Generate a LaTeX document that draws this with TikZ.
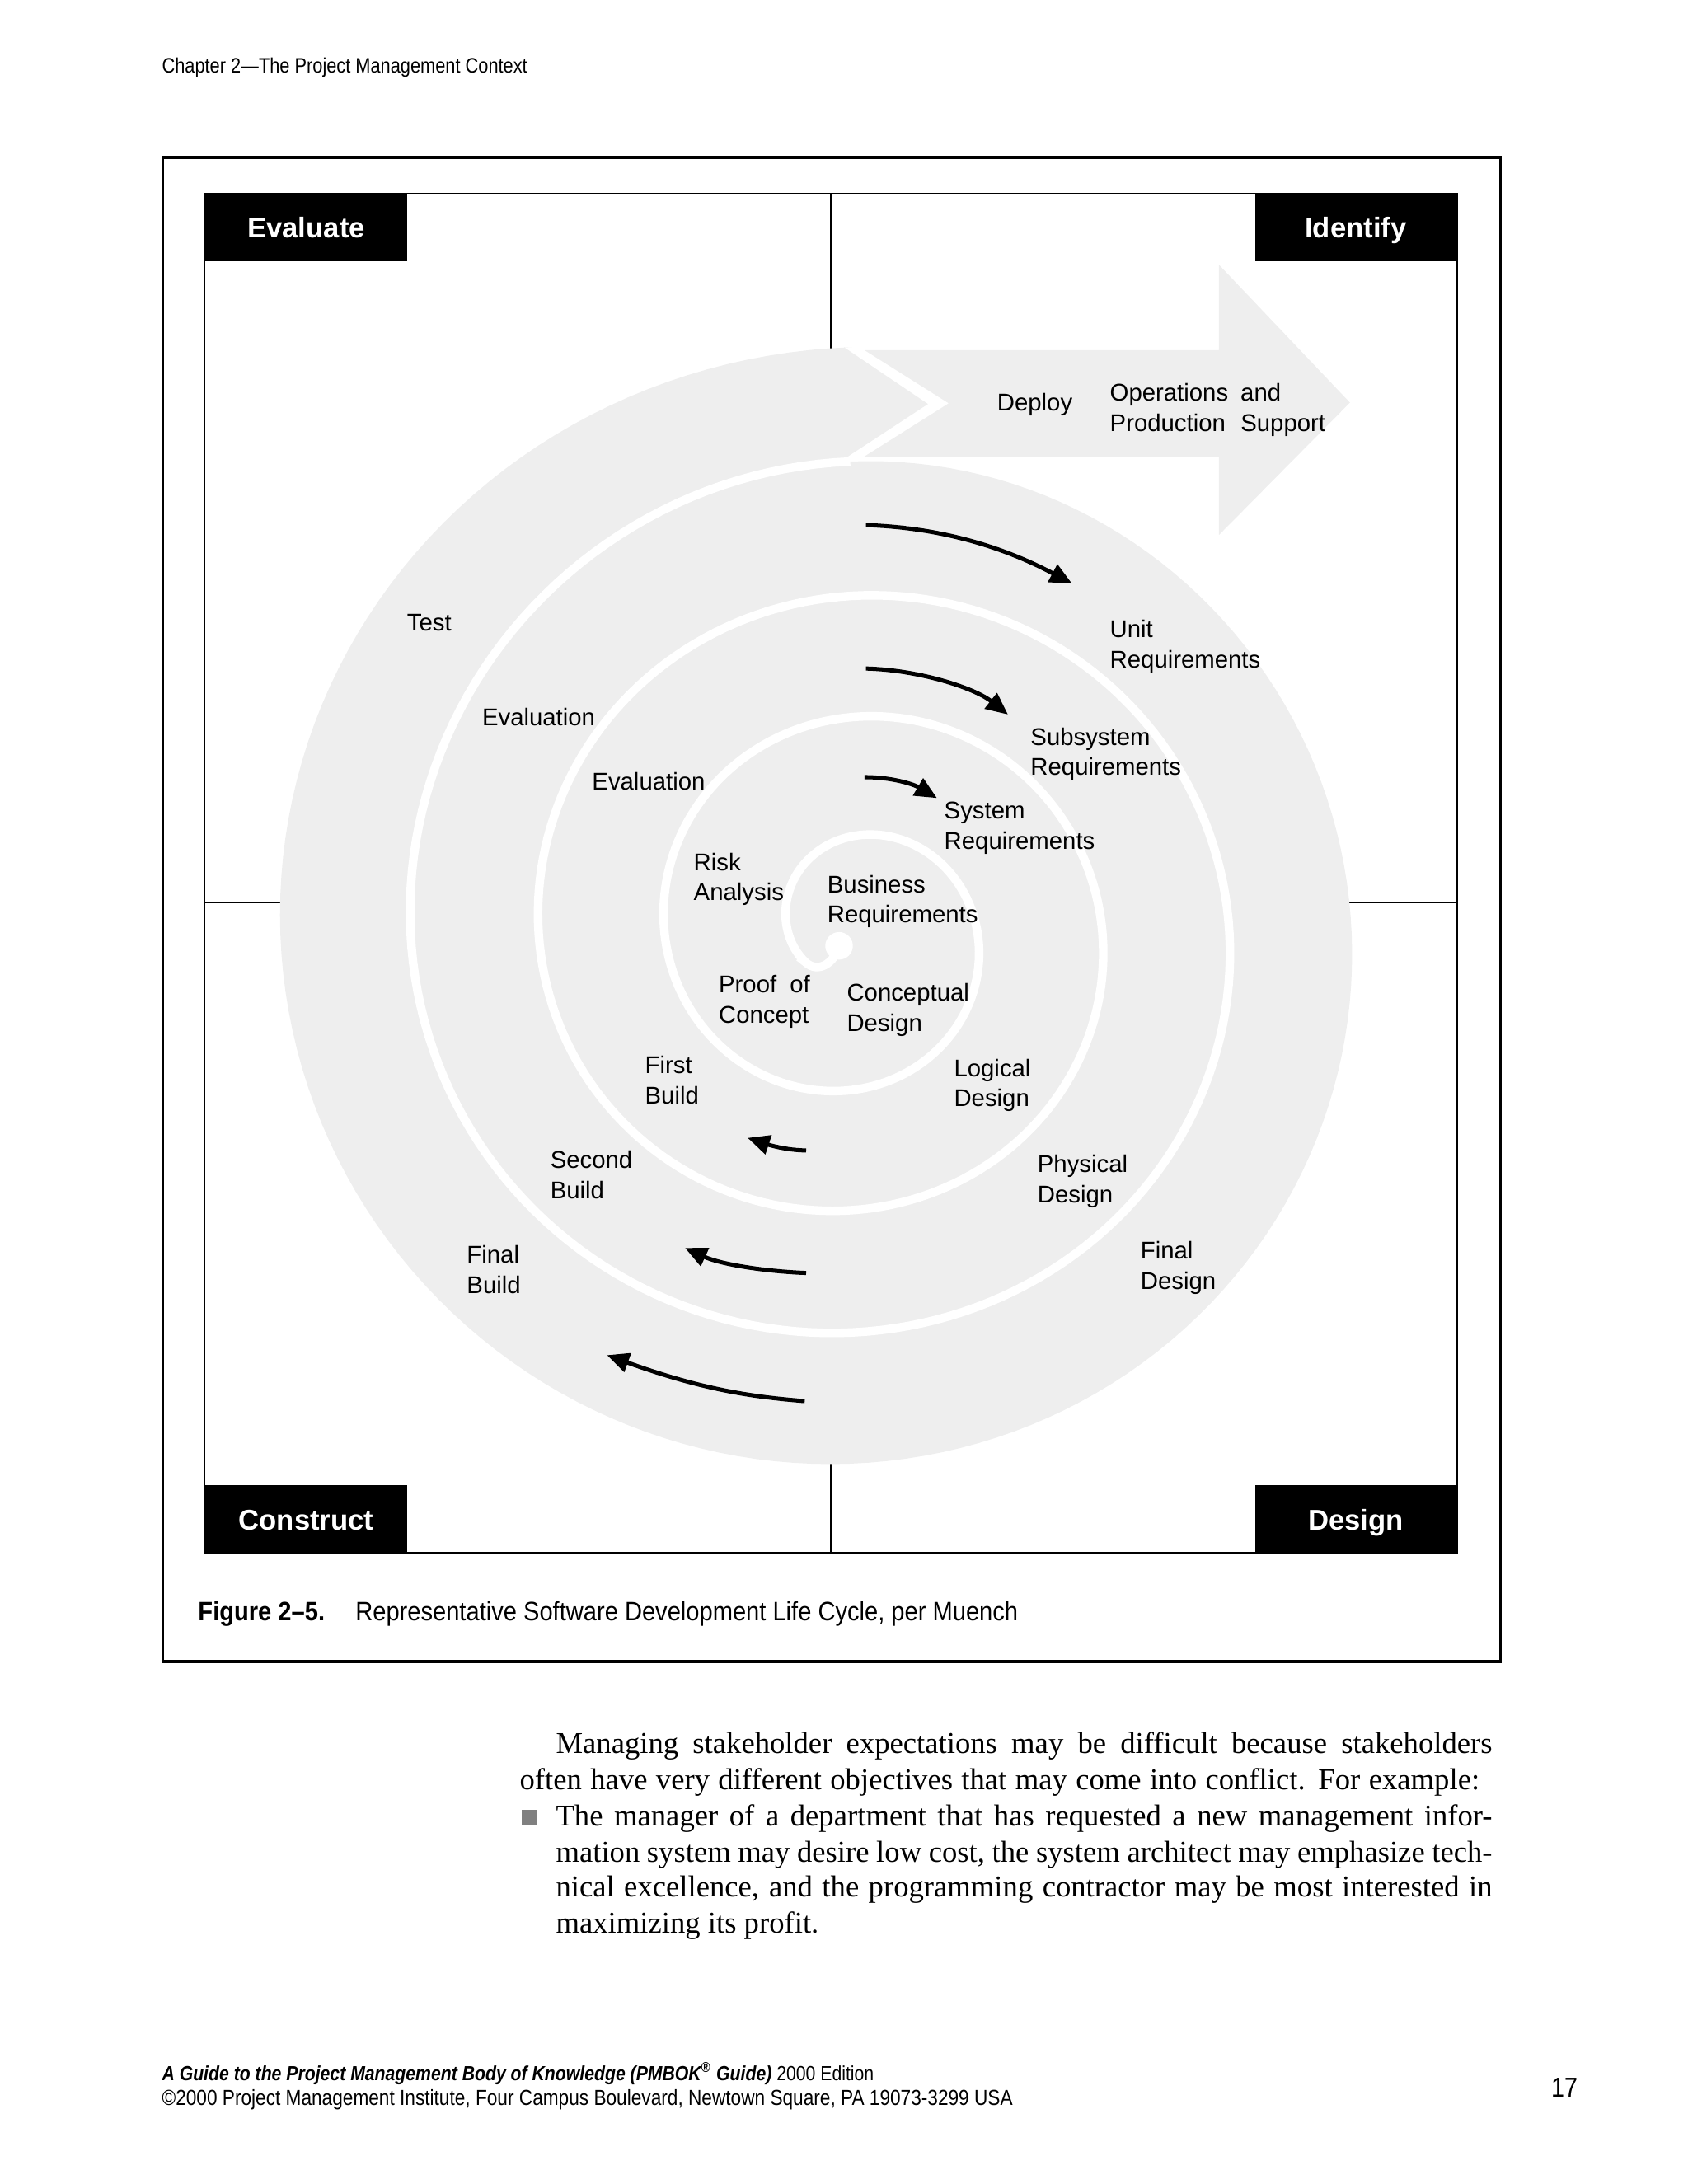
\documentclass[tikz,border=0pt]{standalone}
\usepackage{fontspec}
\setmainfont{Liberation Serif}
\setsansfont{Liberation Sans}
\newfontfamily\condsans[FakeStretch=0.86]{Liberation Sans}
\newfontfamily\capsans[FakeStretch=0.9]{Liberation Sans}
\usetikzlibrary{arrows.meta}
\definecolor{spiralgrey}{RGB}{238,238,238}
\definecolor{bulletgrey}{RGB}{128,128,128}
\newcommand\twoline[2]{\begin{tabular}[t]{@{}l@{}}#1\\#2\end{tabular}}
\tikzset{
  lbl/.style={anchor=base west, inner sep=0pt, font=\sffamily\fontsize{8.8}{11}\selectfont},
  corner/.style={fill=black, text=white, inner sep=0pt, minimum width=73bp, minimum height=24.5bp,
     text height=7.5bp, text depth=0pt, font=\sffamily\bfseries\fontsize{10.4}{12}\selectfont},
  body/.style={anchor=base west, inner sep=0pt, font=\rmfamily\fontsize{11}{12.9}\selectfont},
  blk/.style={line width=1.5bp, -{Triangle[length=8bp,width=7bp]}},
  spiralline/.style={white, line width=3.1bp},
  divider/.style={line width=0.5bp},
  page/.style={xscale=1.0095, yscale=1.01},
  declare function={
    rx(\t)=2+0.245*\t+6*(\t/1000)*(\t/1000);
    bumpA(\t)=exp(-min(((\t-1350)/60)*((\t-1350)/60),20));
    bumpB(\t)=exp(-min(((\t-1530)/70)*((\t-1530)/70),20));
    bumpC(\t)=exp(-min(((\t-1440)/80)*((\t-1440)/80),20));
    sx(\t)=618+rx(\t)*cos(\t)-5*bumpC(\t);
    sy(\t)=677+(4.7+0.959*rx(\t))*sin(\t)-8*bumpA(\t)+5*bumpB(\t);
  },
}
\begin{document}
\begin{tikzpicture}[x=0.5bp,y=-0.5bp]
\useasboundingbox (0,0) rectangle (1224,1584);
% quadrant dividers
\begin{scope}[page]
\draw[divider] (597,139) -- (597,1115);
\draw[divider] (147,648) -- (1047,648);
\end{scope}
% grey spiral body
\fill[spiralgrey] (612,333) -- plot[domain=1350:1710,samples=181] ({sx(\x)},{sy(\x)})
  -- (612,251.8) -- (673,293) -- cycle;
% deploy arrow
\fill[spiralgrey] (627,254) -- (884,254) -- (884,192) -- (979,292) -- (884,388) -- (884,331) -- (627,331) -- (688,292.5) -- cycle;
% white spiral gap
\draw[spiralline] (608.5,686) .. controls (605,699) and (593,706) .. (584.3,698) -- plot[domain=150:1350,samples=601] ({sx(\x)},{sy(\x)});
\fill[white] (608.5,686) circle[radius=10];
\begin{scope}[page]
% black arrows
\coordinate (u1) at (622,377); \coordinate (u2) at (770,419);
\coordinate (s1) at (622,480); \coordinate (s2) at (724,513);
\coordinate (y1) at (621,558); \coordinate (y2) at (673,573);
\coordinate (f1) at (579,826); \coordinate (f2) at (537,817);
\coordinate (c1) at (579,914); \coordinate (c2) at (492,896);
\coordinate (l1) at (578,1006); \coordinate (l2) at (436,973);
\draw[blk] (u1) .. controls (680,379) and (725,395) .. (u2);
\draw[blk] (s1) .. controls (660,481) and (700,494) .. (s2);
\draw[blk] (y1) .. controls (640,558) and (656,563) .. (y2);
\draw[blk] (f1) .. controls (565,826) and (552,822) .. (f2);
\draw[blk] (c1) .. controls (550,913) and (518,908) .. (c2);
\draw[blk] (l1) .. controls (540,1003) and (505,998) .. (l2);
% labels
\node[lbl] (deploy) at (716,295) {Deploy};
\node[lbl] (ops) at (797,288) {\twoline{Operations\hspace{4.5bp}and}{Production\hspace{5.5bp}Support}};
\node[lbl] (unit) at (797,458) {\twoline{Unit}{Requirements}};
\node[lbl] (subsys) at (740,535) {\twoline{Subsystem}{Requirements}};
\node[lbl] (system) at (678,588) {\twoline{System}{Requirements}};
\node[lbl] (business) at (594,641) {\twoline{Business}{Requirements}};
\node[lbl] (concept) at (608,719) {\twoline{Conceptual}{Design}};
\node[lbl] (logical) at (685,773) {\twoline{Logical}{Design}};
\node[lbl] (physical) at (745,842) {\twoline{Physical}{Design}};
\node[lbl] (finald) at (819,904) {\twoline{Final}{Design}};
\node[lbl] (test) at (292,453) {Test};
\node[lbl] (evalA) at (346,521) {Evaluation};
\node[lbl] (evalB) at (425,567) {Evaluation};
\node[lbl] (risk) at (498,625) {\twoline{Risk}{Analysis}};
\node[lbl] (proof) at (516,713) {\twoline{Proof\hspace{4.8bp}of}{Concept}};
\node[lbl] (firstb) at (463,771) {\twoline{First}{Build}};
\node[lbl] (secondb) at (395,839) {\twoline{Second}{Build}};
\node[lbl] (finalb) at (335,907) {\twoline{Final}{Build}};
% frame of the diagram and corner labels
\draw[line width=0.7bp] (147,139) rectangle (1047,1115);
\node[corner] (evaluate) at (220,163.5) {Evaluate};
\node[corner] (identify) at (974,163.5) {Identify};
\node[corner] (construct) at (220,1091) {Construct};
\node[corner] (design) at (974,1091) {Design};
\draw[line width=1.1bp] (117,113) rectangle (1078,1193);
% caption
\node[anchor=base west, inner sep=0pt, font=\capsans\bfseries\fontsize{9.7}{11}\selectfont] (figno) at (142,1164) {Figure 2–5.};
\node[anchor=base west, inner sep=0pt, font=\capsans\fontsize{9.7}{11}\selectfont] (figcap) at (255,1164) {Representative Software Development Life Cycle, per Muench};
% header
\node[anchor=base west, inner sep=0pt, font=\condsans\fontsize{7.6}{9}\selectfont] (header) at (116,52.5) {Chapter 2—The Project Management Context};
% body text
\node[body] (b1) at (399,1259) {\makebox[339.5bp][s]{Managing stakeholder expectations may be difficult because stakeholders}};
\node[body] (b2) at (373,1285) {\makebox[348bp][s]{often have very different objectives that may come into conflict. For example:}};
\node[fill=bulletgrey, minimum size=5.5bp, inner sep=0pt] (bullet) at (380.5,1305) {};
\node[body] (b3) at (399,1311) {\makebox[339.5bp][s]{The manager of a department that has requested a new management infor-}};
\node[body] (b4) at (399,1337) {\makebox[339.5bp][s]{mation system may desire low cost, the system architect may emphasize tech-}};
\node[body] (b5) at (399,1362) {\makebox[339.5bp][s]{nical excellence, and the programming contractor may be most interested in}};
\node[body] (b6) at (399,1388) {maximizing its profit.};
% footer
\node[anchor=base west, inner sep=0pt, font=\condsans\fontsize{7.4}{9}\selectfont] (foot1) at (116,1494) {\textbf{\textit{A Guide to the Project Management Body of Knowledge (PMBOK\textsuperscript{®} Guide)}} 2000 Edition};
\node[anchor=base west, inner sep=0pt, font=\condsans\fontsize{7.9}{9}\selectfont] (foot2) at (116,1512) {©2000 Project Management Institute, Four Campus Boulevard, Newtown Square, PA 19073-3299 USA};
\node[anchor=base west, inner sep=0pt, font=\condsans\fontsize{10}{12}\selectfont] (pageno) at (1114,1506) {17};
\end{scope}
\end{tikzpicture}
\end{document}
